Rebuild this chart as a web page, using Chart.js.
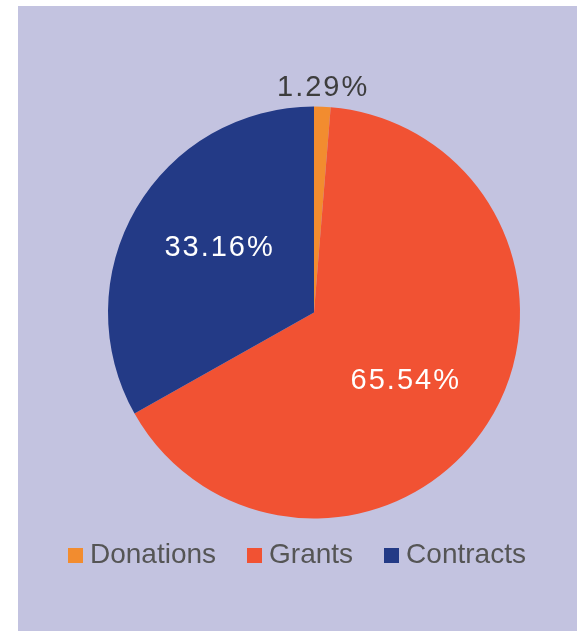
<!DOCTYPE html>
<html>
<head>
<meta charset="utf-8">
<script src="https://cdn.jsdelivr.net/npm/chart.js@4"></script>
<style>
  html, body { margin: 0; padding: 0; background: #fff; overflow: hidden; }
  #wrap { position: absolute; left: 18px; top: 6px; width: 559px; height: 625px; background: #c3c3e0; }
  #box { position: absolute; left: 0; top: 0; width: 591px; height: 631px; }
</style>
</head>
<body>
<div id="wrap"></div>
<div id="box"><canvas id="chart"></canvas></div>
<script>
const categories = ["Donations", "Grants", "Contracts"];
const shares = [1.29, 65.54, 33.16];
const shareLabels = ["1.29%", "65.54%", "33.16%"];
const sliceColors = ["#f28c2f", "#f15233", "#233a86"];

// little square swatches for the legend (keeps the gap to the text tight)
function swatch(color) {
  const c = document.createElement("canvas");
  c.width = 15;
  c.height = 15;
  const g = c.getContext("2d");
  g.fillStyle = color;
  g.fillRect(0, 0, 15, 15);
  return c;
}

// labels: small slice outside in grey, big ones inside in white
const pctLabels = {
  id: "pctLabels",
  afterDatasetsDraw(chart) {
    const ctx = chart.ctx;
    const arcs = chart.getDatasetMeta(0).data;
    ctx.save();
    ctx.font = "29px 'Liberation Sans', Arial, sans-serif";
    ctx.letterSpacing = "2px";
    ctx.textAlign = "center";
    ctx.textBaseline = "middle";
    arcs.forEach((arc, i) => {
      const p = arc.getProps(["x", "y", "startAngle", "endAngle", "outerRadius"], true);
      const small = shares[i] < 5;
      const mid = (p.startAngle + p.endAngle) / 2 + (small ? 0 : 0.07);
      const r = small ? p.outerRadius + 19 : p.outerRadius * 0.555;
      ctx.fillStyle = small ? "#3d3d3d" : "#ffffff";
      ctx.fillText(shareLabels[i], p.x + Math.cos(mid) * r, p.y + Math.sin(mid) * r);
    });
    ctx.restore();
  }
};

const defaultLabels = Chart.overrides.pie.plugins.legend.labels.generateLabels;

new Chart(document.getElementById("chart"), {
  type: "pie",
  data: {
    labels: categories,
    datasets: [{
      data: shares,
      backgroundColor: sliceColors,
      borderWidth: 0,
      radius: 206,
      clip: false
    }]
  },
  options: {
    responsive: true,
    maintainAspectRatio: false,
    animation: false,
    layout: { padding: { left: 37, right: 0, top: 122, bottom: 52 } },
    plugins: {
      legend: {
        position: "bottom",
        align: "start",
        labels: {
          usePointStyle: true,
          pointStyleWidth: 1,
          boxHeight: 15,
          padding: 38,
          color: "#555555",
          font: { size: 28, family: "'Liberation Sans', Arial, sans-serif" },
          generateLabels(chart) {
            return defaultLabels(chart).map((item, i) => {
              item.pointStyle = swatch(sliceColors[i]);
              return item;
            });
          }
        }
      },
      tooltip: { enabled: false }
    }
  },
  plugins: [pctLabels]
});
</script>
</body>
</html>
